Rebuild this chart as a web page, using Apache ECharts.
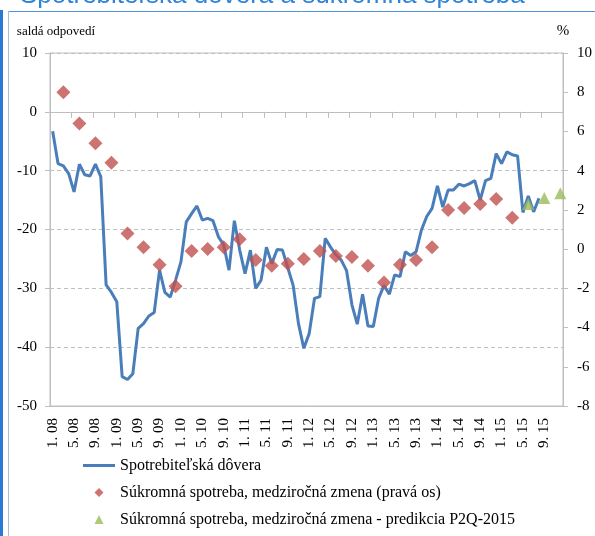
<!DOCTYPE html>
<html>
<head>
<meta charset="utf-8">
<script src="https://cdn.jsdelivr.net/npm/echarts@6/dist/echarts.min.js"></script>
<style>html,body{margin:0;padding:0;background:#fff;}#c{width:595px;height:536px;}</style>
</head>
<body>
<div id="c"></div>
<script>
// ---- data ----
const years = ['08','09','10','11','12','13','14','15'];
const monthNums = [1,2,3,4,5,6,7,8,9,10,11,12];
const categories = [];
years.forEach(y => monthNums.forEach(m => categories.push(m + '. ' + y)));

// Spotrebiteľská dôvera (monthly, 1.08 - 8.15), left axis
const confidence = [
  -3.3, -8.8, -9.2, -10.5, -13.6, -8.9, -10.7, -10.9, -8.9, -11.0, -29.4, -30.7,
  -32.3, -45.0, -45.5, -44.5, -36.8, -36.0, -34.7, -34.1, -26.9, -30.7, -31.5, -28.6,
  -25.5, -18.7, -17.3, -16.0, -18.4, -18.1, -18.5, -21.2, -22.6, -26.9, -18.5, -23.5,
  -27.5, -23.5, -30.0, -28.6, -23.0, -25.8, -23.4, -23.5, -26.5, -29.5, -36.0, -40.2,
  -37.7, -31.7, -31.4, -21.5, -23.0, -24.3, -25.2, -27.0, -32.8, -36.1, -31.0, -36.4,
  -36.5, -31.7, -29.5, -31.0, -27.7, -28.0, -23.8, -24.4, -23.8, -20.1, -17.8, -16.4,
  -12.6, -16.2, -13.3, -13.3, -12.3, -12.6, -12.2, -11.7, -15.0, -11.7, -11.3, -7.1,
  -8.8, -6.8, -7.3, -7.5, -17.1, -14.3, -17.0, -14.7
];

// Súkromná spotreba, medziročná zmena (quarterly, Q1 2008 - Q1 2015), right axis
const spendingQuarters = [
  '3. 08','6. 08','9. 08','12. 08','3. 09','6. 09','9. 09','12. 09',
  '3. 10','6. 10','9. 10','12. 10','3. 11','6. 11','9. 11','12. 11',
  '3. 12','6. 12','9. 12','12. 12','3. 13','6. 13','9. 13','12. 13',
  '3. 14','6. 14','9. 14','12. 14','3. 15'
];
const spending = [
  8.0, 6.4, 5.4, 4.4, 0.8, 0.1, -0.8, -1.9,
  -0.1, 0.0, 0.1, 0.5, -0.55, -0.85, -0.75, -0.5,
  -0.1, -0.35, -0.4, -0.85, -1.7, -0.8, -0.55, 0.1,
  2.0, 2.1, 2.3, 2.55, 1.6
];

// Predikcia P2Q-2015 (right axis)
const forecastQuarters = ['6. 15','9. 15','12. 15'];
const forecast = [2.3, 2.6, 2.85];

const leftTicks = {min: -50, max: 10, interval: 10};
const rightTicks = {min: -8, max: 10, interval: 2};

const names = [
  'Spotrebiteľská dôvera',
  'Súkromná spotreba, medziročná zmena (pravá os)',
  'Súkromná spotreba, medziročná zmena - predikcia P2Q-2015'
];

// ---- chart ----
const serif = 'Liberation Serif';
const grey = '#bfbfbf';
const chart = echarts.init(document.getElementById('c'), null, {renderer: 'canvas'});
chart.setOption({
  animation: false,
  backgroundColor: '#ffffff',
  graphic: [
    {type: 'rect', left: 0, top: 10, shape: {width: 3, height: 526}, style: {fill: '#2a7ad5'}, silent: true},
    {type: 'line', shape: {x1: 8, y1: 11.5, x2: 595, y2: 11.5}, style: {stroke: '#4f93dc', lineWidth: 1}, silent: true},
    {type: 'line', shape: {x1: 8.5, y1: 11, x2: 8.5, y2: 536}, style: {stroke: '#a9bcd6', lineWidth: 1}, silent: true},
    {type: 'text', left: 20, top: -17, silent: true,
     style: {text: 'Spotrebiteľská dôvera a súkromná spotreba', font: '26px "Liberation Sans"', fill: '#2f84d8'}}
  ],
  grid: {left: 50, right: 28, top: 53, bottom: 130, show: true, borderColor: grey, borderWidth: 1, backgroundColor: 'transparent'},
  legend: {
    orient: 'vertical', left: 83, top: 457, padding: 0,
    itemWidth: 32, itemHeight: 10, itemGap: 10,
    textStyle: {fontFamily: serif, fontSize: 16, color: '#000', lineHeight: 17},
    data: [
      {name: names[0], icon: 'path://M0,0L32,0L32,3L0,3Z'},
      {name: names[1], icon: 'path://M0,0M32,0M32,10M0,10M16,0.5L20.5,5L16,9.5L11.5,5Z'},
      {name: names[2], icon: 'path://M0,0M32,0M32,10M0,10M16,0.5L20.5,9.5L11.5,9.5Z'}
    ]
  },
  xAxis: [
    {
      type: 'category', data: categories, boundaryGap: true, position: 'bottom',
      axisLine: {onZero: false, lineStyle: {color: grey}},
      axisTick: {show: false},
      axisLabel: {interval: 3, rotate: 90, margin: 12, fontFamily: serif, fontSize: 15, color: '#000'},
      splitLine: {show: false}
    },
    {
      type: 'category', data: categories, boundaryGap: true, position: 'top',
      axisLine: {onZero: true, onZeroAxisIndex: 0, lineStyle: {color: grey}},
      axisTick: {show: true, interval: 3, inside: true, length: 6, lineStyle: {color: grey}},
      axisLabel: {show: false},
      splitLine: {show: false}
    }
  ],
  yAxis: [
    {
      type: 'value', position: 'left', min: leftTicks.min, max: leftTicks.max, interval: leftTicks.interval,
      name: 'saldá odpovedí', nameLocation: 'end', nameGap: 15,
      nameTextStyle: {fontFamily: serif, fontSize: 13, color: '#000', padding: [0, 0, 0, 12]},
      axisLine: {show: true, lineStyle: {color: grey}},
      axisTick: {show: true, length: 5, lineStyle: {color: grey}},
      axisLabel: {margin: 13, fontFamily: serif, fontSize: 15, color: '#000'},
      splitLine: {show: true, lineStyle: {color: grey, type: [4, 3]}}
    },
    {
      type: 'value', position: 'right', min: rightTicks.min, max: rightTicks.max, interval: rightTicks.interval,
      name: '%', nameLocation: 'end', nameGap: 14,
      nameTextStyle: {fontFamily: serif, fontSize: 15, color: '#000'},
      axisLine: {show: true, lineStyle: {color: grey}},
      axisTick: {show: true, length: 5, lineStyle: {color: grey}},
      axisLabel: {margin: 14, fontFamily: serif, fontSize: 15, color: '#000'},
      splitLine: {show: false}
    }
  ],
  series: [
    {
      name: names[0], type: 'line', xAxisIndex: 0, yAxisIndex: 0,
      data: confidence, symbol: 'none', smooth: false,
      lineStyle: {color: '#4a7ebb', width: 3}, itemStyle: {color: '#4a7ebb'}, z: 2
    },
    {
      name: names[1], type: 'scatter', xAxisIndex: 0, yAxisIndex: 1,
      data: spendingQuarters.map((c, i) => [c, spending[i]]),
      symbol: 'diamond', symbolSize: 14,
      itemStyle: {color: '#c0504d'}, z: 3
    },
    {
      name: names[2], type: 'scatter', xAxisIndex: 0, yAxisIndex: 1,
      data: forecastQuarters.map((c, i) => [c, forecast[i]]),
      symbol: 'triangle', symbolSize: 12,
      itemStyle: {color: '#9bbb59'}, z: 4
    }
  ]
});
</script>
</body>
</html>
